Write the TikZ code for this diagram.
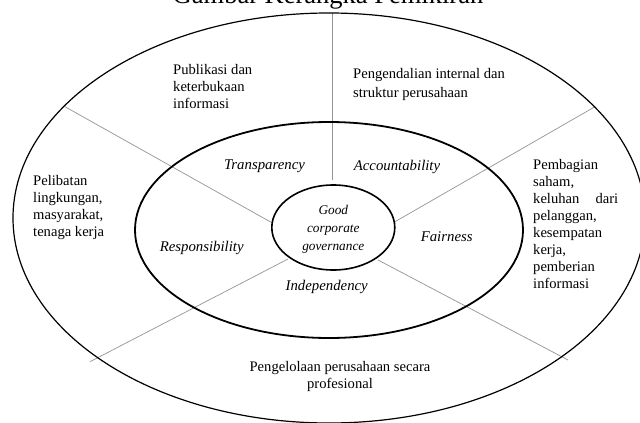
\documentclass[tikz,border=0pt]{standalone}
\usepackage{fontspec}
\setmainfont{Liberation Serif}
\usetikzlibrary{shapes.geometric}
\begin{document}
\begin{tikzpicture}[x=1pt,y=-1pt,
  ring/.style={draw=black, ellipse, inner sep=0pt},
  spoke/.style={draw=black!42, line width=0.7pt},
  body/.style={inner sep=0pt, font=\fontsize{14.6}{17}\selectfont, align=left},
  lab/.style={inner sep=0pt, font=\fontsize{14.8}{17}\selectfont\itshape},
  core/.style={inner sep=0pt, font=\fontsize{13.3}{18}\selectfont\itshape, align=center},
]
\fill[white] (0,0) rectangle (640,423);
\clip (0,0) rectangle (640,423);

% title (cut off at the top edge)
\node[anchor=base, inner sep=0pt, font=\fontsize{26.5}{30}\selectfont] (title) at (328,3.3) {Gambar Kerangka Pemikiran};

% spoke end points
\coordinate (s1o) at (332,12.7);  \coordinate (s1i) at (332,180);
\coordinate (s2o) at (65,106.7);  \coordinate (s2i) at (271.5,222.5);
\coordinate (s3o) at (595,106.7); \coordinate (s3i) at (394.5,222);
\coordinate (s4o) at (90,361.7);  \coordinate (s4i) at (288,259);
\coordinate (s5o) at (568,360);   \coordinate (s5i) at (378,260);

\draw[spoke] (s1o) -- (s1i);
\draw[spoke] (s2o) -- (s2i);
\draw[spoke] (s3o) -- (s3i);
\draw[spoke] (s4o) -- (s4i);
\draw[spoke] (s5o) -- (s5i);

% rings
\node[ring, line width=1.2pt, minimum width=632pt, minimum height=410pt] (outer) at (329,218) {};
\node[ring, line width=1.8pt, minimum width=388pt, minimum height=216pt] (middle) at (329,230) {};
\node[ring, line width=1.6pt, minimum width=123pt, minimum height=85pt] (inner) at (333.3,227.5) {};

% centre text
\node[core] (gcg) at (333.3,229.5) {Good\\corporate\\governance};

% principles
\node[lab] (transp) at (264.5,166.7) {Transparency};
\node[lab] (account) at (397,166.7) {Accountability};
\node[lab] (respons) at (201.7,248) {Responsibility};
\node[lab] (fair) at (446.7,236.7) {Fairness};
\node[lab] (indep) at (326.7,287) {Independency};

% outer texts
\node[body, anchor=west] (publ) at (173,87) {Publikasi dan\\keterbukaan\\informasi};
\node[body, anchor=west, font=\fontsize{14.6}{19}\selectfont] (peng) at (353,84) {Pengendalian internal dan\\struktur perusahaan};
\node[body, anchor=west] (pemb) at (533,224) {Pembagian\\saham,\\\makebox[85pt][s]{keluhan dari}\\pelanggan,\\kesempatan\\kerja,\\pemberian\\informasi};
\node[body, anchor=west] (peli) at (33,207.5) {Pelibatan\\lingkungan,\\masyarakat,\\tenaga kerja};
\node[body, align=center] (kelola) at (340,376) {Pengelolaan perusahaan secara\\profesional};
\end{tikzpicture}
\end{document}
